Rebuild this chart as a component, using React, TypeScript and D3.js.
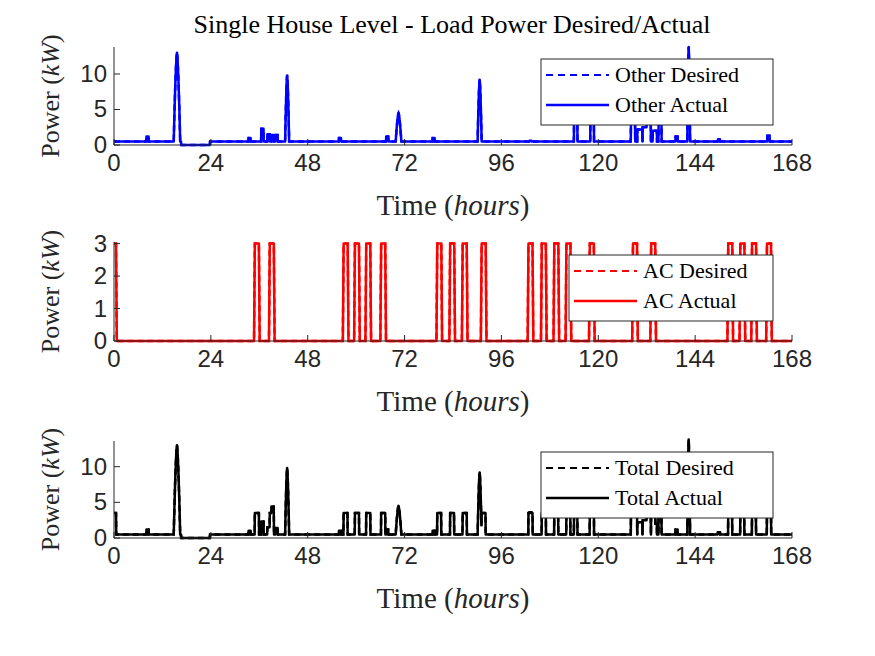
import React from "react";
import * as d3 from "d3";

const acOnHours = [0, 34.9, 38.6, 56.9, 59.7, 62.5, 66.2, 80.1, 83.3, 86.4, 91.1, 102.7, 106.0, 109.1, 112.1, 117.9, 128.6, 133.1, 152.2, 155.2, 158.1, 161.8];
const acWidth = [0.5, 1, 1, 1, 1, 1, 1, 1, 1, 1, 1, 1, 1, 1, 1, 1, 1, 1, 1, 1, 1, 1];
const acPower = 3;
const otherSpikeHours = [8.3, 15.6, 33.6, 36.8, 38.3, 39.3, 40.3, 42.9, 56.0, 67.7, 70.5, 79.2, 90.6, 103.2, 114.4, 118.5, 128.6, 130.3, 131.5, 132.5, 134.0, 135.3, 139.4, 142.4, 149.9, 162.2];
const otherSpikeValues = [1.2, 13, 1.0, 2.3, 1.5, 1.4, 1.4, 9.8, 1.0, 1.2, 4.5, 1.0, 9.2, 0.6, 3.5, 3.5, 3.5, 2.2, 2.5, 3.2, 2.0, 3.0, 1.2, 13.8, 0.8, 1.3];
const otherSpikeWidths = [0.5, 1.6, 0.5, 0.6, 0.6, 0.6, 0.6, 1.0, 0.5, 0.5, 1.4, 0.5, 1.0, 0.5, 0.9, 0.9, 1.0, 1.2, 1.0, 1.0, 1.0, 0.8, 0.5, 0.7, 0.5, 0.6];
const otherBase = 0.5;
const otherLowStart = 16.6, otherLowEnd = 23.8;
const xTicks = [0, 24, 48, 72, 96, 120, 144, 168];

function buildAC(): [number, number][] {
  const pts: [number, number][] = [];
  acOnHours.forEach((h, i) => {
    const w = acWidth[i];
    if (h === 0) { pts.push([0, acPower], [w, acPower], [w + 0.2, 0]); return; }
    pts.push([h - 0.2, 0], [h, acPower], [h + w, acPower], [h + w + 0.2, 0]);
  });
  pts.push([168, 0]);
  return pts;
}
function other(t: number): number {
  let v = t > otherLowStart && t < otherLowEnd ? 0 : otherBase;
  otherSpikeHours.forEach((h, i) => {
    const half = otherSpikeWidths[i] / 2;
    const d = Math.abs(t - h);
    if (d <= half) {
      const pk = otherSpikeValues[i];
      const f = pk > 4 ? Math.max(0, 1 - Math.pow(d / half, 1.5)) : 1;
      v = Math.max(v, otherBase + (pk - otherBase) * f);
    }
  });
  return v;
}
function acAt(t: number): number {
  for (let i = 0; i < acOnHours.length; i++) if (t >= acOnHours[i] && t <= acOnHours[i] + acWidth[i]) return acPower;
  return 0;
}
const grid = d3.range(0, 168.01, 0.05);
const otherPts: [number, number][] = grid.map((t) => [t, other(t)]);
const totalPts: [number, number][] = grid.map((t) => [t, other(t) + acAt(t)]);
const acPts = buildAC();

const X0 = 114, X1 = 792;
const x = d3.scaleLinear().domain([0, 168]).range([X0, X1]);
const serif = "Liberation Serif, serif";
const sans = "Liberation Sans, Arial, sans-serif";

function Panel({ top, bottom, ymax, yt, pts, color, names, legend }: any) {
  const y = d3.scaleLinear().domain([0, ymax]).range([bottom, top]);
  const line = d3.line<[number, number]>().x((d) => x(d[0])).y((d) => y(d[1]));
  const p = line(pts) || "";
  return (
    <g>
      <path d={p} fill="none" stroke={color} strokeWidth={2.5} strokeDasharray="6,4" />
      <path d={p} fill="none" stroke={color} strokeWidth={2.5} strokeLinejoin="round" />
      <line x1={X0} x2={X1} y1={bottom} y2={bottom} stroke="#262626" />
      <line x1={X0} x2={X0} y1={top} y2={bottom} stroke="#262626" />
      {xTicks.map((t) => (
        <g key={t}>
          <line x1={x(t)} x2={x(t)} y1={bottom} y2={bottom - 6} stroke="#262626" />
          <text x={x(t)} y={bottom + 26} textAnchor="middle" fontSize={24} fontFamily={sans} fill="#262626">{t}</text>
        </g>
      ))}
      {yt.map((t: number) => (
        <g key={t}>
          <line x1={X0} x2={X0 + 6} y1={y(t)} y2={y(t)} stroke="#262626" />
          <text x={X0 - 7} y={y(t) + 8} textAnchor="end" fontSize={24} fontFamily={sans} fill="#262626">{t}</text>
        </g>
      ))}
      <text x={(X0 + X1) / 2} y={bottom + 70} textAnchor="middle" fontSize={29} fontFamily={serif} fill="#262626">
        Time (<tspan fontStyle="italic">hours</tspan>)
      </text>
      <text transform={`translate(59,${(top + bottom) / 2}) rotate(-90)`} textAnchor="middle" fontSize={26} fontFamily={serif} fill="#262626">
        Power (<tspan fontStyle="italic">kW</tspan>)
      </text>
      <rect x={legend[0]} y={legend[1]} width={773 - legend[0]} height={66} fill="white" stroke="#262626" />
      <line x1={legend[0] + 5} x2={legend[0] + 68} y1={legend[1] + 16} y2={legend[1] + 16} stroke={color} strokeWidth={2} strokeDasharray="7,5" />
      <line x1={legend[0] + 5} x2={legend[0] + 68} y1={legend[1] + 46} y2={legend[1] + 46} stroke={color} strokeWidth={2.5} />
      <text x={legend[0] + 74} y={legend[1] + 23} fontSize={22} fontFamily={serif}>{names[0]}</text>
      <text x={legend[0] + 74} y={legend[1] + 53} fontSize={22} fontFamily={serif}>{names[1]}</text>
    </g>
  );
}

export default function App() {
  return (
    <svg width={875} height={656} style={{ display: "block", margin: "-8px" }}>
      <rect width={875} height={656} fill="white" />
      <text x={452} y={33} textAnchor="middle" fontSize={26} fontFamily={serif} fill="#000">Single House Level - Load Power Desired/Actual</text>
      <Panel top={47} bottom={145} ymax={13.8} yt={[0, 5, 10]} pts={otherPts} color="#0000ff" names={["Other Desired", "Other Actual"]} legend={[541, 59]} />
      <Panel top={242} bottom={341} ymax={3.05} yt={[0, 1, 2, 3]} pts={acPts} color="#ff0000" names={["AC Desired", "AC Actual"]} legend={[569, 255]} />
      <Panel top={441} bottom={538} ymax={13.6} yt={[0, 5, 10]} pts={totalPts} color="#000000" names={["Total Desired", "Total Actual"]} legend={[541, 452]} />
    </svg>
  );
}
